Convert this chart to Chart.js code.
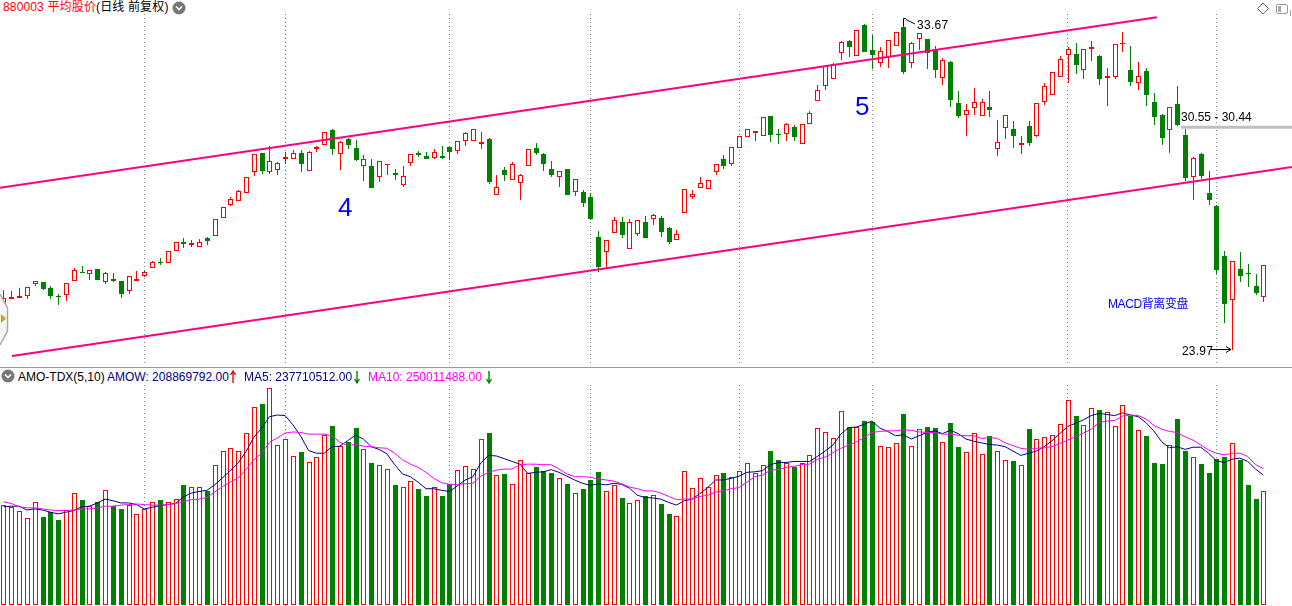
<!DOCTYPE html>
<html>
<head>
<meta charset="utf-8">
<title>880003 平均股价</title>
<script src="https://cdn.jsdelivr.net/npm/chart.js@4"></script>
<style>
html, body { margin: 0; padding: 0; background: #fff; }
body { width: 1292px; height: 606px; position: relative; overflow: hidden;
    font-family: "Liberation Sans", Arial, "Noto Sans CJK SC", sans-serif; font-size: 12px; color: #000; }
#priceBox { position: absolute; left: 0; top: 14px; width: 1292px; height: 352px; }
#amoBox { position: absolute; left: 0; top: 385px; width: 1292px; height: 221px; }
.t { position: absolute; white-space: nowrap; line-height: 14px; }
svg { position: absolute; overflow: visible; }
#sep { position: absolute; left: 0; top: 367px; width: 1292px; height: 1px; background: #999; }
</style>
</head>
<body>
<div id="priceBox"><canvas id="priceChart"></canvas></div>
<div id="amoBox"><canvas id="amoChart"></canvas></div>
<div id="sep"></div>

<span class="t" style="left:3px;top:0;letter-spacing:.15px"><span style="color:#f00">880003 平均股价</span>(日线 前复权)</span>
<svg style="left:172px;top:1px" width="14" height="14"><circle cx="7" cy="7" r="6.5" fill="#777"/><path d="M4 5.5 L7 8.5 L10 5.5" stroke="#fff" stroke-width="1.6" fill="none"/></svg>
<svg style="left:0;top:0" width="1" height="1"><path d="M1263 3 L1268.5 8.5 L1263 14 L1257.5 8.5 Z" fill="#fff" stroke="#666"/><rect x="1276.5" y="4.5" width="11" height="9" rx="1.5" fill="#fff" stroke="#999"/><rect x="1278" y="6" width="3" height="6" fill="#aaa"/><path d="M1290.5 10 V16" stroke="#aaa"/></svg>

<span class="t" style="left:917px;top:18px;letter-spacing:.3px">33.67</span>
<svg style="left:0;top:0" width="1" height="1"><path d="M903.5 26 V18.5 H906 M906 19.5 L915 24" stroke="#000" stroke-width="1" fill="none"/></svg>
<span class="t" style="left:1181px;top:110px">30.55 - 30.44</span>
<span class="t" style="left:1182px;top:344px;letter-spacing:.2px">23.97</span>
<svg style="left:0;top:0" width="1" height="1"><path d="M1211 349.5 H1231 M1226 346.5 L1231 349.5 L1226 352.5" stroke="#000" stroke-width="1" fill="none"/></svg>
<span class="t" style="left:338px;top:193px;font-size:26px;line-height:28px;color:#00f;font-family:'Liberation Sans'">4</span>
<span class="t" style="left:855px;top:92px;font-size:26px;line-height:28px;color:#00f;font-family:'Liberation Sans'">5</span>
<span class="t" style="left:1108px;top:297px;color:#00f;letter-spacing:-.4px">MACD背离变盘</span>

<svg style="left:0;top:0" width="1" height="1"><path d="M0 294 L7.5 308 L7.5 331 L0 345" fill="#f6f6f6" stroke="#aaa" stroke-width="1.5"/><path d="M1 314 L6 318.5 L1 323 Z" fill="#e09a10"/></svg>

<svg style="left:1px;top:369px" width="14" height="14"><circle cx="7" cy="7" r="6.5" fill="#777"/><path d="M4 5.5 L7 8.5 L10 5.5" stroke="#fff" stroke-width="1.6" fill="none"/></svg>
<span class="t" style="left:18px;top:370px">AMO-TDX(5,10)</span>
<span class="t" style="left:107px;top:370px;color:#000080">AMOW: 208869792.00</span>
<svg style="left:229px;top:370px" width="8" height="14"><path d="M4 13 V2 M1.5 5 L4 1 L6.5 5" stroke="#f00" stroke-width="1.4" fill="none"/></svg>
<span class="t" style="left:244px;top:370px;color:#000080">MA5: 237710512.00</span>
<svg style="left:353px;top:370px" width="8" height="14"><path d="M4 1 V12 M1.5 9 L4 13 L6.5 9" stroke="#008000" stroke-width="1.4" fill="none"/></svg>
<span class="t" style="left:368px;top:370px;color:#f0f">MA10: 250011488.00</span>
<svg style="left:485px;top:370px" width="8" height="14"><path d="M4 1 V12 M1.5 9 L4 13 L6.5 9" stroke="#008000" stroke-width="1.4" fill="none"/></svg>

<script>
// дневные свечи, значения
const opens = [25.31,25.49,25.52,25.58,25.94,26.00,25.82,25.59,25.61,26.03,26.31,26.24,26.40,26.02,26.09,26.03,25.75,26.03,26.20,26.42,
    26.61,26.57,26.93,27.20,27.13,27.07,27.32,27.38,27.92,28.33,28.43,28.67,29.32,29.88,29.32,29.38,29.69,29.69,29.88,29.35,
    30.01,30.11,30.57,29.86,30.30,30.03,29.50,29.49,29.17,29.52,29.28,28.93,29.59,29.88,29.79,29.74,29.78,30.06,29.95,30.25,
    30.25,30.15,30.30,28.63,29.37,29.08,28.99,29.50,30.03,29.85,29.40,29.17,29.40,28.72,28.71,28.56,27.36,26.92,27.49,27.81,
    27.01,27.45,27.81,27.89,27.93,27.63,27.26,28.07,28.55,28.82,28.79,29.30,29.70,29.56,30.02,30.35,30.47,30.38,30.98,30.44,
    30.44,30.65,30.14,30.74,31.43,31.88,32.11,32.87,33.23,32.78,33.71,32.96,32.57,32.76,33.08,33.65,32.57,33.29,33.29,32.97,
    32.14,32.61,31.38,31.01,31.22,30.98,31.25,29.99,30.62,30.59,30.11,30.68,30.39,31.40,31.61,32.15,32.81,32.84,32.36,32.99,
    32.79,32.12,32.15,33.14,32.36,31.97,32.34,31.40,31.01,30.56,31.34,30.42,29.17,29.85,28.68,28.29,26.79,25.46,26.40,26.27,
    25.89,25.55];
const highs = [25.77,25.73,25.82,25.87,26.05,26.00,25.89,25.65,25.97,26.42,26.49,26.36,26.40,26.30,26.27,26.03,26.18,26.34,26.35,26.65,
    26.73,26.93,27.20,27.33,27.26,27.30,27.36,27.89,28.25,28.56,28.77,29.15,29.84,29.88,30.09,29.61,29.92,29.97,29.97,29.93,
    30.09,30.50,30.60,30.23,30.33,30.27,29.82,29.70,29.63,29.54,29.39,29.49,29.84,29.94,29.91,29.99,30.09,30.09,30.23,30.51,
    30.59,30.51,30.33,29.22,29.46,29.61,29.25,29.99,30.18,29.88,29.64,29.33,29.40,29.09,28.77,28.68,27.54,27.26,27.96,27.96,
    27.90,27.86,27.99,28.04,27.99,27.66,27.57,28.79,28.76,29.15,29.06,29.54,29.82,30.05,30.38,30.59,30.53,30.95,30.98,30.59,
    30.77,30.71,30.74,31.13,31.92,32.49,32.57,33.23,33.26,33.56,33.74,33.41,33.05,33.26,33.50,33.87,33.20,33.47,33.29,33.08,
    32.72,32.64,31.74,31.34,31.82,31.49,31.74,30.87,31.01,30.84,30.38,30.84,31.37,31.97,32.30,32.78,33.05,33.18,32.99,33.23,
    32.82,32.42,33.14,33.50,33.09,32.61,32.42,31.67,31.04,31.25,31.89,30.59,29.75,29.87,29.33,28.31,26.94,26.63,26.91,26.55,
    26.25,26.51];
const lows = [25.31,25.49,25.52,25.51,25.90,25.78,25.51,25.33,25.45,26.03,26.27,26.08,26.08,25.96,26.02,25.54,25.66,26.03,26.17,26.42,
    26.53,26.57,26.93,27.02,27.06,27.07,27.13,27.38,27.92,28.29,28.43,28.67,29.20,29.25,29.25,29.23,29.55,29.69,29.32,29.35,
    29.91,30.11,29.82,29.37,30.00,29.64,29.04,28.83,29.01,29.22,29.07,28.86,29.49,29.76,29.70,29.70,29.69,29.67,29.85,30.09,
    30.25,30.00,28.95,28.63,29.04,29.08,28.47,29.50,29.82,29.34,29.16,28.86,28.62,28.59,28.26,27.87,26.31,26.43,27.49,27.33,
    27.01,27.39,27.33,27.73,27.36,27.15,27.26,28.07,28.51,28.82,28.79,29.23,29.41,29.50,30.02,30.35,30.25,30.38,30.22,30.16,
    30.25,30.25,30.14,30.74,31.43,31.76,32.09,32.67,32.76,32.78,32.92,32.40,32.46,32.43,33.08,32.25,32.43,32.97,32.40,32.14,
    31.92,31.27,30.93,30.39,31.02,30.98,30.96,29.80,30.30,30.03,29.85,30.09,30.36,31.32,31.61,32.15,31.97,32.25,32.10,32.64,
    31.92,31.29,32.09,32.91,31.89,31.77,31.29,30.72,30.12,29.88,30.70,29.03,28.47,29.09,28.32,26.25,24.78,23.97,26.01,25.86,
    25.62,25.41];
const closes = [25.52,25.55,25.58,25.87,26.05,25.81,25.60,25.55,25.97,26.36,26.29,26.36,26.08,26.27,26.05,25.66,26.18,26.09,26.30,26.60,
    26.58,26.93,27.20,27.16,27.17,27.20,27.25,27.89,28.25,28.49,28.73,29.15,29.84,29.35,29.63,29.57,29.75,29.87,29.56,29.90,
    30.07,30.50,30.00,30.20,30.12,29.67,29.69,28.83,29.63,29.54,29.23,29.18,29.84,29.83,29.70,29.90,29.73,29.92,30.23,30.47,
    30.59,30.20,29.01,28.85,29.22,29.54,29.21,29.99,29.88,29.55,29.22,29.33,28.62,29.09,28.38,27.90,26.46,27.26,27.86,27.42,
    27.80,27.86,27.33,28.01,27.52,27.21,27.44,28.79,28.64,28.97,29.06,29.54,29.50,30.05,30.38,30.59,30.53,30.95,30.43,30.42,
    30.74,30.37,30.74,31.07,31.76,32.49,32.54,33.20,33.07,33.56,32.92,32.83,32.93,33.26,33.50,32.32,33.17,33.47,32.89,32.38,
    32.66,31.48,30.99,31.16,31.40,31.40,31.18,30.20,31.01,30.40,30.17,30.19,31.37,31.88,32.30,32.69,32.99,32.53,32.99,33.05,
    32.11,32.18,33.14,33.17,32.02,32.18,31.63,30.95,30.34,31.25,30.73,29.14,29.72,29.20,28.48,26.38,25.36,26.63,26.20,26.24,
    25.68,26.51];

// AMO, в миллионах
const amoValues = [183,180,172,159,189,162,170,156,174,205,193,181,189,211,181,175,184,167,175,189,
    193,189,194,219,216,216,208,256,282,288,282,315,363,369,397,293,304,273,281,262,
    271,312,328,291,299,324,285,260,256,249,220,216,227,213,200,216,200,221,247,254,
    249,304,315,238,240,221,265,241,253,245,242,232,222,205,213,229,244,208,219,196,
    186,192,200,201,185,167,163,245,214,232,216,239,242,234,245,260,241,256,282,266,
    260,253,260,274,324,316,305,355,326,326,337,335,291,289,296,350,291,322,326,324,
    298,333,290,280,315,276,310,282,265,264,256,322,304,307,311,331,375,346,329,360,
    357,353,327,366,346,320,310,260,258,293,341,282,271,258,242,268,271,296,266,220,
    194,209];
const ma5Values = [180,181,181,174,176,174,170,167,170,173,180,181,187,194,191,187,187,184,176,179,
    182,184,186,198,205,208,210,220,233,246,260,281,307,324,345,348,347,330,309,283,
    278,278,290,291,301,311,304,290,285,277,257,240,235,225,213,213,210,208,218,229,
    235,260,274,273,268,263,258,241,243,244,248,243,236,229,223,219,222,220,223,221,
    214,201,197,196,194,188,183,191,194,204,215,229,229,232,236,243,244,246,257,261,
    261,263,263,263,272,282,293,313,325,326,331,337,324,318,310,312,304,310,316,319,
    314,320,314,304,300,297,294,293,290,282,274,278,282,290,301,314,327,333,339,347,
    351,349,347,352,348,345,334,319,299,288,290,285,289,289,278,264,261,267,269,263,
    249,238];
const ma10Values = [189,186,180,178,178,176,174,173,173,174,176,176,178,181,181,183,184,185,184,183,
    183,184,186,189,193,194,197,207,217,225,233,248,266,278,298,306,315,317,316,313,
    313,313,310,298,292,294,291,290,288,287,278,266,258,252,243,232,224,221,221,222,
    223,236,243,247,249,249,257,258,258,257,257,249,240,235,235,234,231,229,227,222,
    216,213,209,209,205,199,193,194,194,199,201,207,209,213,215,225,235,238,247,248,
    252,254,257,258,267,271,279,287,293,299,307,316,318,319,319,321,320,317,316,316,
    313,313,311,310,310,305,307,305,297,292,287,285,287,288,290,296,302,308,315,322,
    334,337,338,346,348,347,341,329,322,318,316,308,302,293,284,278,275,278,278,272,
    257,250];

const gridIdx = [18, 36, 57, 75, 94, 111, 136, 155];
// ручные линии канала и зона 30.55 - 30.44: [индекс свечи, цена]
const upperLine = [[-0.43, 28.84], [147.4, 33.95]];
const lowerLine = [[1.1, 23.79], [164.66, 29.46]];
const gapBand = [[150.5, 30.65], [164.66, 30.65]];

const RED = '#ff0000', GREEN = '#008000', PINK = '#ff0080';
const isUp = closes.map((c, i) => c >= opens[i]);
const markColor = isUp.map(u => u ? RED : GREEN);
const markFill = isUp.map(u => u ? '#ffffff' : GREEN);

// бары садятся на целые пиксели, как в терминале
const snapBars = {
    id: 'snapBars',
    afterDatasetsUpdate(chart) {
        chart.getSortedVisibleDatasetMetas().forEach(meta => {
            if (meta.type !== 'bar') return;
            meta.data.forEach(el => {
                el.x = Math.round(el.x) + 0.5;
                el.y = Math.round(el.y);
                el.base = Math.round(el.base);
                if (el.base - el.y < 1) el.base = el.y + 1;
            });
        });
    }
};

function xAxis() {
    return {
        type: 'linear', offset: false, min: -0.4332, max: 164.66,
        afterBuildTicks(scale) { scale.ticks = gridIdx.map(v => ({ value: v })); },
        ticks: { display: false, autoSkip: false },
        grid: { color: '#808080', drawTicks: false, tickLength: 0, offset: false },
        border: { display: false, dash: [1, 3] }
    };
}
function yAxis(min, max) {
    return { min, max, display: false };
}
function lineSet(points, color, width, order) {
    return {
        type: 'line', data: points.map(p => ({ x: p[0], y: p[1] })),
        borderColor: color, borderWidth: width, pointRadius: 0, order
    };
}
const common = {
    responsive: false, animation: false, events: [],
    layout: { padding: 0 },
    plugins: { legend: { display: false }, tooltip: { enabled: false } }
};

const priceCanvas = document.getElementById('priceChart');
priceCanvas.width = 1292; priceCanvas.height = 352;
new Chart(priceCanvas, {
    type: 'bar',
    data: {
        datasets: [
            lineSet(upperLine, PINK, 2, 0),
            lineSet(lowerLine, PINK, 2, 0),
            lineSet(gapBand, '#c0c0c0', 3, 1),
            {
                data: opens.map((o, i) => ({ x: i, y: [o, closes[i]] })),
                backgroundColor: markFill, borderColor: markColor, borderWidth: 1, inflateAmount: 0,
                borderSkipped: false, barThickness: 5, grouped: false, order: 2
            },
            {
                data: lows.map((l, i) => ({ x: i, y: [l, highs[i]] })),
                backgroundColor: markColor, borderWidth: 0, inflateAmount: 0,
                barThickness: 1, grouped: false, order: 3
            }
        ]
    },
    options: { ...common, scales: { x: xAxis(), y: yAxis(23.49, 34.05) } },
    plugins: [snapBars]
});

const amoCanvas = document.getElementById('amoChart');
amoCanvas.width = 1292; amoCanvas.height = 221;
new Chart(amoCanvas, {
    type: 'bar',
    data: {
        datasets: [
            lineSet(ma5Values.map((v, i) => [i, v]), '#000080', 1, 1),
            lineSet(ma10Values.map((v, i) => [i, v]), '#ff00ff', 1, 0),
            {
                data: amoValues.map((v, i) => ({ x: i, y: v })),
                backgroundColor: markFill, borderColor: markColor, borderWidth: 1, inflateAmount: 0,
                borderSkipped: false, barThickness: 5, grouped: false, order: 2
            }
        ]
    },
    options: { ...common, scales: { x: xAxis(), y: yAxis(-1.83, 403) } },
    plugins: [snapBars]
});
</script>
</body>
</html>
